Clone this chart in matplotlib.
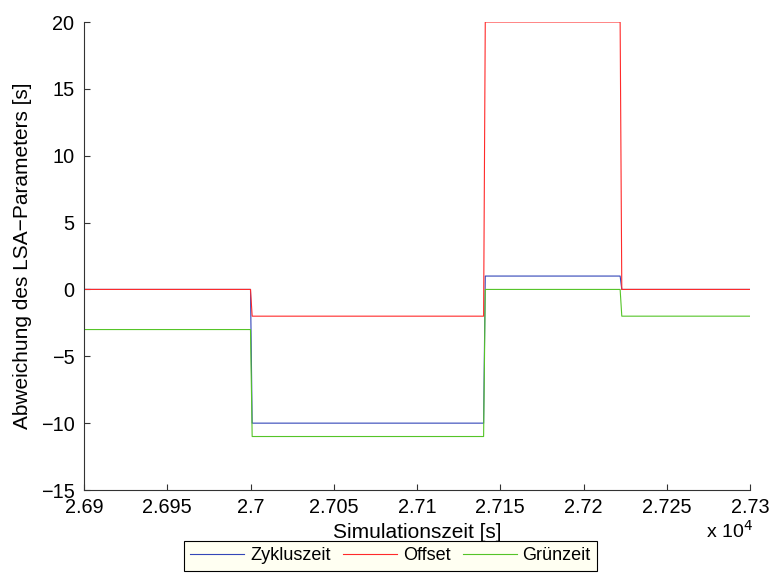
import matplotlib
matplotlib.use("Agg")
import matplotlib.pyplot as plt
from matplotlib.ticker import FuncFormatter, FixedLocator

plt.rcParams['font.family'] = ['Liberation Sans', 'DejaVu Sans']

# Simulation time [s] at the step breakpoints
t = [26900, 27000, 27001, 27140, 27141, 27222, 27223, 27300]

# Deviation of the signal-plan parameters [s]
zykluszeit = [0, 0, -10, -10, 1, 1, 0, 0]
offset = [0, 0, -2, -2, 20, 20, 0, 0]
gruenzeit = [-3, -3, -11, -11, 0, 0, -2, -2]

series_names = ['Zykluszeit', 'Offset', 'Grünzeit']
x_ticks = [26900, 26950, 27000, 27050, 27100, 27150, 27200, 27250, 27300]
y_ticks = [-15, -10, -5, 0, 5, 10, 15, 20]

W, H = 772, 573
fig = plt.figure(figsize=(W / 100, H / 100), dpi=100)
ax = fig.add_axes([84 / W, 1 - 490 / H, (750 - 84) / W, (490 - 22) / H])

colors = ['#3346b8', '#ff2a2a', '#55c428']
for y, c, name in zip([zykluszeit, offset, gruenzeit], colors, series_names):
    ax.plot(t, y, color=c, lw=0.8, label=name)

ax.set_xlim(26900, 27300)
ax.set_ylim(-15, 20)
ax.xaxis.set_major_locator(FixedLocator(x_ticks))
ax.yaxis.set_major_locator(FixedLocator(y_ticks))
ax.xaxis.set_major_formatter(FuncFormatter(lambda v, p: f"{v / 1e4:g}"))
ax.yaxis.set_major_formatter(FuncFormatter(lambda v, p: f"{v:g}".replace('-', '\u2212')))

for s in ['top', 'right']:
    ax.spines[s].set_visible(False)
for s in ['left', 'bottom']:
    ax.spines[s].set_color('#333333')
    ax.spines[s].set_linewidth(0.8)

ax.tick_params(direction='in', length=4.5, width=0.8, color='#333333',
               labelsize=14.3)
ax.tick_params(axis='x', pad=6)
ax.tick_params(axis='y', pad=7)

ax.set_xlabel('Simulationszeit [s]', fontsize=15, labelpad=4)
ax.set_ylabel('Abweichung des LSA\u2212Parameters [s]', fontsize=15, labelpad=6)

fig.text(729 / W, 1 - 531 / H, r'x 10$^4$', fontsize=14, ha='center', va='center')

leg = ax.legend(loc='upper left', bbox_to_anchor=(184 / W, 1 - 541 / H),
                bbox_transform=fig.transFigure, ncol=3, fontsize=13,
                frameon=True, fancybox=False, handlelength=3.0,
                columnspacing=0.7, handletextpad=0.3, borderpad=0.35,
                borderaxespad=0)
leg.get_frame().set_facecolor('#fffff2')
leg.get_frame().set_edgecolor('black')
leg.get_frame().set_linewidth(0.8)
leg.get_frame().set_alpha(1)

fig.savefig('out.png', dpi=100)
